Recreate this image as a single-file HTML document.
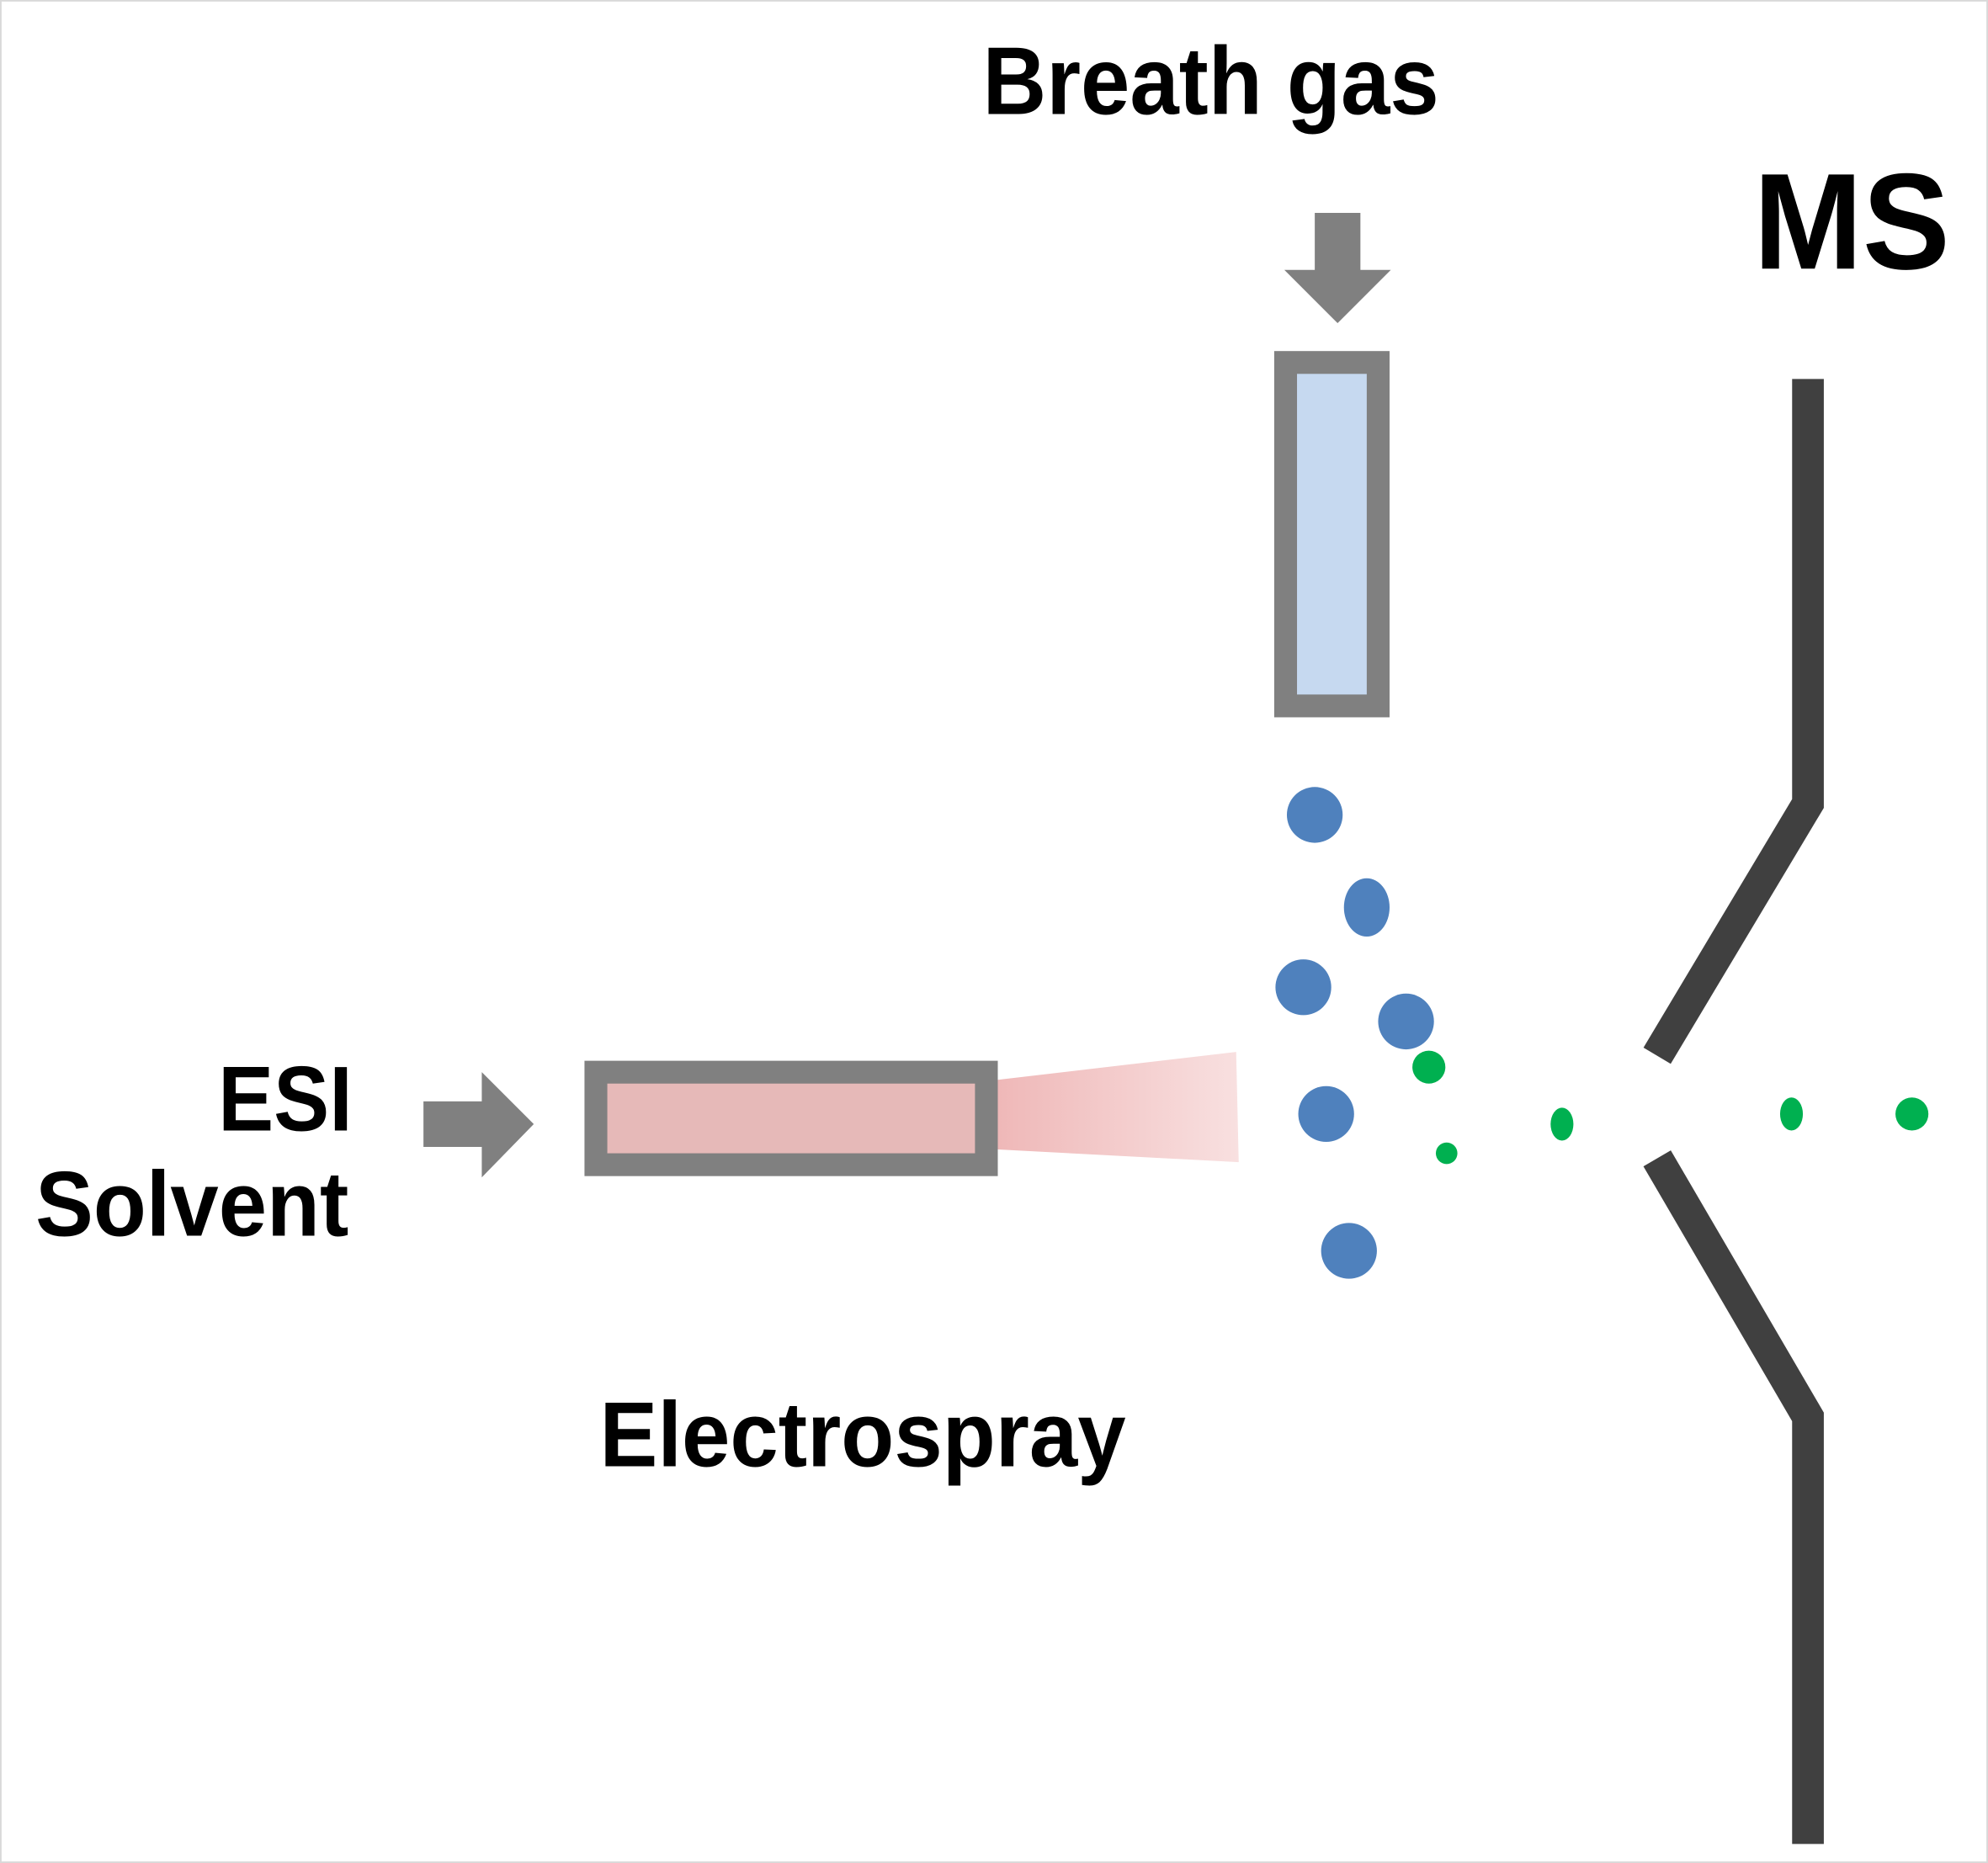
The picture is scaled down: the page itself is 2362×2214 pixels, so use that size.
<!DOCTYPE html>
<html><head><meta charset="utf-8"><style>
html,body{margin:0;padding:0;background:#fff;}
svg{display:block;}
text{font-family:"Liberation Sans",Arial,sans-serif;font-weight:bold;fill:#000;}
</style></head><body>
<svg width="2362" height="2214" viewBox="0 0 1568 1470" preserveAspectRatio="none" xmlns="http://www.w3.org/2000/svg">
<defs>
<linearGradient id="g" x1="0" x2="1" y1="0" y2="0">
<stop offset="0" stop-color="#efb8b8"/><stop offset="1" stop-color="#f8e0e0"/>
</linearGradient>
</defs>
<rect x="0.5" y="0.5" width="1567" height="1469" fill="#fff" stroke="#d9d9d9" stroke-width="1.5"/>
<text x="775" y="90" font-size="76" textLength="360" lengthAdjust="spacingAndGlyphs">Breath gas</text>
<polygon points="1037,168 1073,168 1073,213 1097,213 1055,255 1013,213 1037,213" fill="#808080"/>
<rect x="1014" y="286" width="73" height="271" fill="#c6d9f0" stroke="#808080" stroke-width="18"/>
<text x="1383" y="212" font-size="108" textLength="155" lengthAdjust="spacingAndGlyphs">MS</text>
<polyline points="1426,299 1426,634 1307,833" fill="none" stroke="#404040" stroke-width="25" stroke-linejoin="miter" stroke-linecap="butt"/>
<polyline points="1307,914 1426,1118 1426,1455" fill="none" stroke="#404040" stroke-width="25" stroke-linejoin="miter" stroke-linecap="butt"/>
<text x="278" y="892" font-size="73" text-anchor="end" textLength="106" lengthAdjust="spacingAndGlyphs">ESI</text>
<text x="28" y="975" font-size="73" textLength="247" lengthAdjust="spacingAndGlyphs">Solvent</text>
<polygon points="334,869 380,869 380,846 421,887 380,929 380,905 334,905" fill="#808080"/>
<polygon points="787,852 975,830 977,917 787,907" fill="url(#g)"/>
<rect x="470" y="846" width="308" height="73" fill="#e6b9b8" stroke="#808080" stroke-width="18"/>
<g fill="#4f81bd">
<circle cx="1037" cy="643" r="22"/>
<ellipse cx="1078" cy="716" rx="18" ry="23"/>
<circle cx="1028" cy="779" r="22"/>
<circle cx="1109" cy="806" r="22"/>
<circle cx="1046" cy="879" r="22"/>
<circle cx="1064" cy="987" r="22"/>
</g>
<g fill="#00b050">
<circle cx="1127" cy="842" r="13"/>
<circle cx="1141" cy="910" r="8.5"/>
<ellipse cx="1232" cy="887" rx="9" ry="13"/>
<ellipse cx="1413" cy="879" rx="9" ry="13"/>
<circle cx="1508" cy="879" r="13"/>
</g>
<text x="473" y="1157" font-size="73" textLength="415" lengthAdjust="spacingAndGlyphs">Electrospray</text>
</svg>
</body></html>
